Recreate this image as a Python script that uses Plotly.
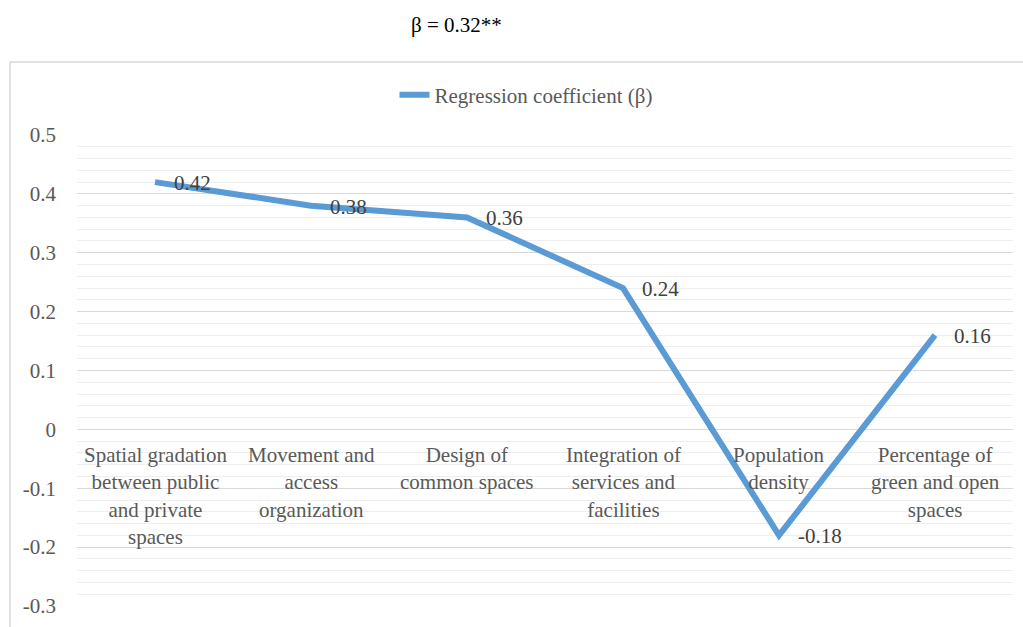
import plotly.graph_objects as go

categories = [
    "Spatial gradation<br>between public<br>and private<br>spaces",
    "Movement and<br>access<br>organization",
    "Design of<br>common spaces",
    "Integration of<br>services and<br>facilities",
    "Population<br>density",
    "Percentage of<br>green and open<br>spaces",
]
beta = [0.42, 0.38, 0.36, 0.24, -0.18, 0.16]
series_name = "Regression coefficient (β)"
title_text = "β = 0.32**"
y_ticks = [-0.3, -0.2, -0.1, 0, 0.1, 0.2, 0.3, 0.4, 0.5]

W, H = 1023, 627
L, R, T, B = 77, 10, 135, 21
pw, ph = W - L - R, H - T - B

FONT = "Times New Roman, Tinos, Liberation Serif, DejaVu Serif, serif"
GRAY = "#595959"

fig = go.Figure()
fig.add_trace(go.Scatter(
    x=list(range(len(categories))), y=beta, mode="lines",
    name=series_name,
    line=dict(color="#5B9BD5", width=6),
    hoverinfo="skip",
))

annotations = []
# data labels
for i, v in enumerate(beta):
    annotations.append(dict(
        x=i, y=v, xref="x", yref="y", text=f"{v:.2f}",
        showarrow=False, xanchor="left", yanchor="middle", xshift=17, yshift=-1,
        font=dict(family=FONT, size=21, color="#404040"),
    ))
# category labels placed at y = 0
for i, c in enumerate(categories):
    annotations.append(dict(
        x=i, y=0, xref="x", yref="y", text=c, showarrow=False,
        xanchor="center", yanchor="top", yshift=-12, align="center",
        font=dict(family=FONT, size=21, color=GRAY),
    ))
# title
annotations.append(dict(
    x=(456 - L) / pw, y=1 + (T - 25) / ph, xref="paper", yref="paper",
    text=title_text, showarrow=False, xanchor="center", yanchor="middle",
    font=dict(family=FONT, size=21, color="#000000"),
))

fig.update_layout(
    width=W, height=H,
    margin=dict(l=L, r=R, t=T, b=B, pad=0),
    paper_bgcolor="white", plot_bgcolor="white",
    font=dict(family=FONT),
    showlegend=True,
    legend=dict(
        orientation="h", x=(526 - L) / pw, xanchor="center",
        y=1 + (T - 95) / ph, yanchor="middle",
        font=dict(family=FONT, size=21, color=GRAY),
        bgcolor="rgba(0,0,0,0)", itemwidth=30,
    ),
    xaxis=dict(
        range=[-0.5, len(categories) - 0.5], showticklabels=False,
        showgrid=False, zeroline=False, showline=False, fixedrange=True,
    ),
    yaxis=dict(
        range=[-0.3, 0.5], tickvals=y_ticks,
        ticktext=[("%g" % v) for v in y_ticks],
        showgrid=True, gridcolor="#d9d9d9", gridwidth=1.3,
        zeroline=False, showline=False, ticks="", ticklabelstandoff=20,
        tickfont=dict(family=FONT, size=21, color=GRAY),
        minor=dict(dtick=0.02, tick0=0, showgrid=True, gridcolor="#eeeeee", gridwidth=1),
    ),
    annotations=annotations,
    shapes=[dict(
        type="rect", xref="paper", yref="paper",
        x0=(10 - L) / pw, x1=1.2, y0=-0.2, y1=1 + (T - 62) / ph,
        line=dict(color="#d9d9d9", width=1.5), fillcolor="rgba(0,0,0,0)", layer="below",
    )],
)

fig.write_html("out.html")
